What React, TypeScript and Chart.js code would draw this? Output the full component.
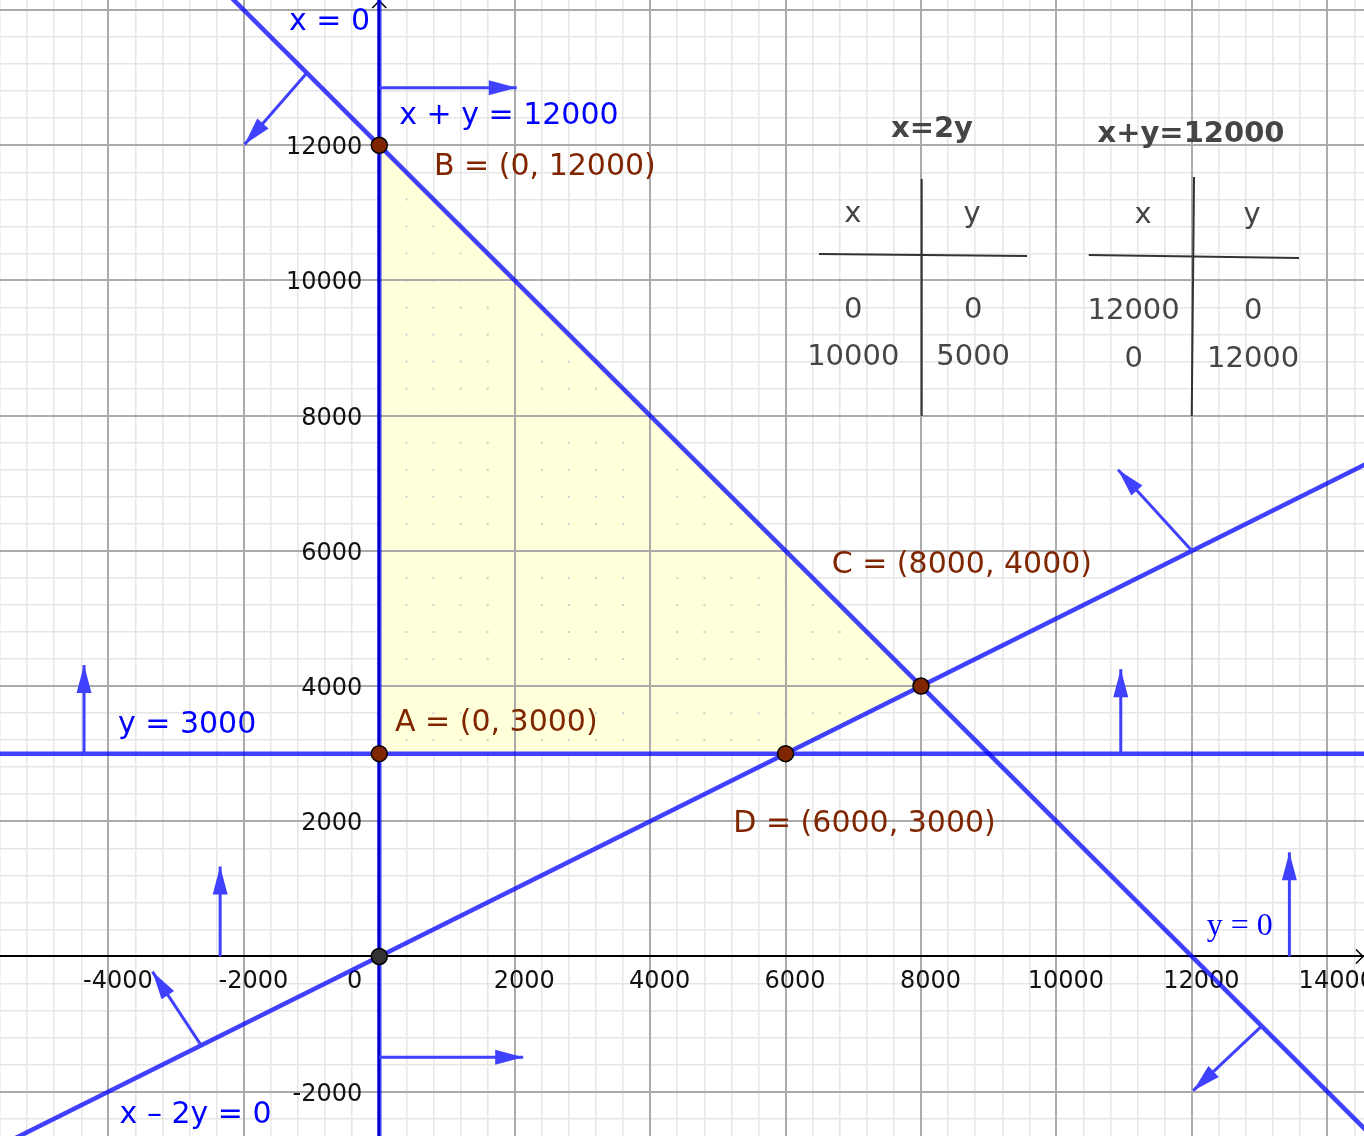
import React, { useEffect, useRef } from 'react';
import { Chart, registerables } from 'chart.js';

Chart.register(...registerables);

// ---------- axis ranges & ticks ----------
const X_MIN = -5601;
const X_MAX = 14542;
const Y_MIN = -2656;
const Y_MAX = 14149;
const MINOR_STEP = 400;
const MAJOR_STEP = 2000;
const X_TICK_VALUES = [-4000, -2000, 0, 2000, 4000, 6000, 8000, 10000, 12000, 14000];
const Y_TICK_VALUES = [-2000, 2000, 4000, 6000, 8000, 10000, 12000];

// ---------- constraint lines (two points each) ----------
const LINE_X_EQ_0 = [{ x: 0, y: -3000 }, { x: 0, y: 15000 }];
const LINE_Y_EQ_3000 = [{ x: -6000, y: 3000 }, { x: 15000, y: 3000 }];
const LINE_X_PLUS_Y = [{ x: -3000, y: 15000 }, { x: 15000, y: -3000 }];
const LINE_X_MINUS_2Y = [{ x: -6000, y: -3000 }, { x: 15000, y: 7500 }];

// ---------- vertices ----------
const POINT_A = { x: 0, y: 3000 };
const POINT_B = { x: 0, y: 12000 };
const POINT_C = { x: 8000, y: 4000 };
const POINT_D = { x: 6000, y: 3000 };
const FEASIBLE_REGION = [POINT_A, POINT_B, POINT_C, POINT_D, POINT_A];
const VERTICES = [POINT_A, POINT_B, POINT_C, POINT_D];
const ORIGIN = [{ x: 0, y: 0 }];

// ---------- half-plane arrows: [tail, tip] ----------
const ARROWS = [
  [{ x: -1070, y: 13070 }, { x: -1990, y: 12010 }],
  [{ x: 0, y: 12850 }, { x: 2030, y: 12850 }],
  [{ x: 12000, y: 6000 }, { x: 10910, y: 7200 }],
  [{ x: -4360, y: 3000 }, { x: -4360, y: 4310 }],
  [{ x: 10950, y: 3000 }, { x: 10950, y: 4250 }],
  [{ x: -2350, y: 0 }, { x: -2350, y: 1330 }],
  [{ x: 13440, y: 0 }, { x: 13440, y: 1540 }],
  [{ x: -2630, y: -1315 }, { x: -3350, y: -225 }],
  [{ x: 0, y: -1490 }, { x: 2125, y: -1490 }],
  [{ x: 13030, y: -1030 }, { x: 12020, y: -1985 }],
];

// ---------- tables ----------
const TABLE1_TITLE = 'x=2y';
const TABLE1_HEAD = ['x', 'y'];
const TABLE1_ROWS = [['0', '0'], ['10000', '5000']];
const TABLE2_TITLE = 'x+y=12000';
const TABLE2_HEAD = ['x', 'y'];
const TABLE2_ROWS = [['12000', '0'], ['0', '12000']];

// ---------- text labels ----------
const LABELS = [
  { text: 'x = 0', x: -1334, y: 13698, kind: 'blue' },
  { text: 'x + y = 12000', x: 295, y: 12315, kind: 'blue' },
  { text: 'B = (0, 12000)', x: 808, y: 11561, kind: 'brown' },
  { text: 'C = (8000, 4000)', x: 6681, y: 5669, kind: 'brown' },
  { text: 'A = (0, 3000)', x: 232, y: 3336, kind: 'brown' },
  { text: 'D = (6000, 3000)', x: 5228, y: 1846, kind: 'brown' },
  { text: 'y = 3000', x: -3859, y: 3311, kind: 'blue' },
  { text: 'x \u2013 2y = 0', x: -3835, y: -2467, kind: 'blue' },
  { text: 'y = 0', x: 12219, y: 318, kind: 'serif' },
];

// ---------- table layout (data coordinates) ----------
const TABLE_LAYOUT = [
  {
    title: TABLE1_TITLE, head: TABLE1_HEAD, rows: TABLE1_ROWS,
    titleAt: [8162, 12123], headX: [6993, 8753], headY: 10865,
    rowX: [7000, 8770], rowY: [9445, 8750],
    vLine: [[8010, 11502], [8010, 7996]], hLine: [[6494, 10392], [9566, 10363]],
  },
  {
    title: TABLE2_TITLE, head: TABLE2_HEAD, rows: TABLE2_ROWS,
    titleAt: [11987, 12053], headX: [11279, 12889], headY: 10851,
    rowX: [11140, 12905], rowY: [9430, 8721],
    vLine: [[12032, 11532], [11998, 7996]], hLine: [[10477, 10377], [13582, 10332]],
  },
];

// ---------- styles ----------
const LINE_COLOR = 'rgba(0,0,255,0.75)';
const ARROW_COLOR = '#4040ff';
const MINOR_GRID = '#e6e6e6';
const MAJOR_GRID = '#ababab';
const REGION_FILL = '#ffffd9';
const REGION_DOT = '#cfcfcf';
const VERTEX_COLOR = '#7f2600';
const FONT = '"DejaVu Sans", sans-serif';

const isMajor = (v: number) => Math.abs(v - Math.round(v / MAJOR_STEP) * MAJOR_STEP) < 1;

// grid ticks on exact multiples of the minor step
const gridTicks = (scale: any) => {
  const out: { value: number }[] = [];
  for (let v = Math.ceil(scale.min / MINOR_STEP) * MINOR_STEP; v <= scale.max; v += MINOR_STEP) {
    out.push({ value: v });
  }
  scale.ticks = out;
};

export default function App() {
  const ref = useRef<HTMLCanvasElement>(null);

  useEffect(() => {
    const canvas = ref.current!;
    const ctx2 = canvas.getContext('2d')!;
    const tile = document.createElement('canvas');
    tile.width = 27;
    tile.height = 27;
    const t = tile.getContext('2d')!;
    t.fillStyle = REGION_FILL;
    t.fillRect(0, 0, 27, 27);
    t.fillStyle = REGION_DOT;
    t.fillRect(0, 0, 2, 2);
    const pattern = ctx2.createPattern(tile, 'repeat')!;

    const lineDs = (data: any[]) => ({
      data, showLine: true, borderColor: LINE_COLOR, borderWidth: 4.5,
      pointRadius: 0, fill: false, order: 5,
    });
    const arrowDs = (data: any[]) => ({
      data, showLine: true, borderColor: ARROW_COLOR, borderWidth: 3,
      pointRadius: 0, fill: false, order: 4,
    });

    const datasets: any[] = [
      {
        data: FEASIBLE_REGION, showLine: true, borderWidth: 0, borderColor: 'rgba(0,0,0,0)',
        backgroundColor: pattern, fill: 'shape', pointRadius: 0, order: 10,
      },
      lineDs(LINE_X_EQ_0),
      lineDs(LINE_Y_EQ_3000),
      lineDs(LINE_X_PLUS_Y),
      lineDs(LINE_X_MINUS_2Y),
      ...ARROWS.map((a) => arrowDs(a)),
      {
        data: VERTICES, showLine: false, pointRadius: 8, pointBorderWidth: 1.5,
        pointBackgroundColor: VERTEX_COLOR, pointBorderColor: '#000', order: 0,
      },
      {
        data: ORIGIN, showLine: false, pointRadius: 8, pointBorderWidth: 1.5,
        pointBackgroundColor: '#333333', pointBorderColor: '#000', order: 0,
      },
    ];
    const arrowStart = 5;

    const gridAndAxes = {
      id: 'gridAndAxes',
      beforeDatasetsDraw(chart: any) {
        const xs = chart.scales.x, ys = chart.scales.y;
        const px0 = xs.getPixelForValue(0), py0 = ys.getPixelForValue(0);
        const sx = (xs.getPixelForValue(MINOR_STEP) - px0) / 27;
        const sy = (py0 - ys.getPixelForValue(MINOR_STEP)) / 27;
        pattern.setTransform(new DOMMatrix([sx, 0, 0, sy, px0 - 1, py0 - 1]));
      },
      afterDatasetDraw(chart: any, args: any) {
        if (args.index !== 0) return;
        const c = chart.ctx;
        const xs = chart.scales.x, ys = chart.scales.y;
        const area = chart.chartArea;
        c.save();
        // major grid over the region
        c.strokeStyle = MAJOR_GRID;
        c.lineWidth = 2;
        xs.ticks.filter((tk: any) => isMajor(tk.value)).forEach((tk: any) => {
          const p = Math.round(xs.getPixelForValue(tk.value));
          c.beginPath(); c.moveTo(p, area.top); c.lineTo(p, area.bottom); c.stroke();
        });
        ys.ticks.filter((tk: any) => isMajor(tk.value)).forEach((tk: any) => {
          const p = Math.round(ys.getPixelForValue(tk.value));
          c.beginPath(); c.moveTo(area.left, p); c.lineTo(area.right, p); c.stroke();
        });
        // axes
        const ax = xs.getPixelForValue(0), ay = ys.getPixelForValue(0);
        c.strokeStyle = '#000';
        c.lineWidth = 2;
        c.beginPath(); c.moveTo(area.left, Math.round(ay)); c.lineTo(area.right, Math.round(ay)); c.stroke();
        c.beginPath(); c.moveTo(Math.round(ax), area.top); c.lineTo(Math.round(ax), area.bottom); c.stroke();
        c.lineWidth = 1.5;
        c.beginPath();
        c.moveTo(area.right - 8, ay - 7); c.lineTo(area.right - 1, ay); c.lineTo(area.right - 8, ay + 7);
        c.stroke();
        c.beginPath();
        c.moveTo(ax - 7, area.top + 8); c.lineTo(ax, area.top + 1); c.lineTo(ax + 7, area.top + 8);
        c.stroke();
        // tick labels
        c.fillStyle = '#111';
        c.font = '24px ' + FONT;
        c.textBaseline = 'alphabetic';
        X_TICK_VALUES.forEach((v) => {
          const p = xs.getPixelForValue(v);
          const label = String(v);
          if (v === 0) {
            c.textAlign = 'right';
            c.fillText(label, ax - 17, ay + 32);
          } else {
            c.textAlign = 'center';
            c.fillText(label, p + 9.5, ay + 32);
          }
        });
        c.textAlign = 'right';
        Y_TICK_VALUES.forEach((v) => {
          const p = ys.getPixelForValue(v);
          c.fillText(String(v), ax - 17, p + 9);
        });
        c.restore();
      },
      afterDatasetsDraw(chart: any) {
        const c = chart.ctx;
        const xs = chart.scales.x, ys = chart.scales.y;
        c.save();
        // arrow heads
        c.fillStyle = ARROW_COLOR;
        ARROWS.forEach((_, i) => {
          const meta = chart.getDatasetMeta(arrowStart + i);
          const tail = meta.data[0], tip = meta.data[1];
          const dx = tip.x - tail.x, dy = tip.y - tail.y;
          const len = Math.hypot(dx, dy);
          const ux = dx / len, uy = dy / len;
          const bx = tip.x - ux * 28, by = tip.y - uy * 28;
          c.beginPath();
          c.moveTo(tip.x, tip.y);
          c.lineTo(bx - uy * 7.5, by + ux * 7.5);
          c.lineTo(bx + uy * 7.5, by - ux * 7.5);
          c.closePath();
          c.fill();
        });
        // tables
        TABLE_LAYOUT.forEach((tb) => {
          c.strokeStyle = '#333';
          c.lineWidth = 2;
          [tb.vLine, tb.hLine].forEach((ln) => {
            c.beginPath();
            c.moveTo(xs.getPixelForValue(ln[0][0]), ys.getPixelForValue(ln[0][1]));
            c.lineTo(xs.getPixelForValue(ln[1][0]), ys.getPixelForValue(ln[1][1]));
            c.stroke();
          });
          c.fillStyle = '#454545';
          c.textAlign = 'center';
          c.textBaseline = 'alphabetic';
          c.font = 'bold 29px ' + FONT;
          c.fillText(tb.title, xs.getPixelForValue(tb.titleAt[0]), ys.getPixelForValue(tb.titleAt[1]));
          c.font = '29px ' + FONT;
          tb.head.forEach((h, j) => {
            c.fillText(h, xs.getPixelForValue(tb.headX[j]), ys.getPixelForValue(tb.headY));
          });
          tb.rows.forEach((row, r) => {
            row.forEach((cell, j) => {
              c.fillText(cell, xs.getPixelForValue(tb.rowX[j]), ys.getPixelForValue(tb.rowY[r]));
            });
          });
        });
        // labels
        c.textAlign = 'left';
        c.textBaseline = 'alphabetic';
        LABELS.forEach((lb) => {
          if (lb.kind === 'serif') {
            c.font = '32px "Liberation Serif", serif';
            c.fillStyle = '#0000ff';
          } else {
            c.font = '30px ' + FONT;
            c.fillStyle = lb.kind === 'blue' ? '#0000ff' : VERTEX_COLOR;
          }
          c.fillText(lb.text, xs.getPixelForValue(lb.x), ys.getPixelForValue(lb.y));
        });
        c.restore();
      },
    };

    const gridColor = (ctx: any) => (ctx.tick && isMajor(ctx.tick.value) ? MAJOR_GRID : MINOR_GRID);
    const gridWidth = (ctx: any) => (ctx.tick && isMajor(ctx.tick.value) ? 2 : 1.5);

    const chart = new Chart(canvas, {
      type: 'scatter',
      data: { datasets },
      options: {
        responsive: false,
        animation: false,
        events: [],
        layout: { padding: 0, autoPadding: false },
        plugins: { legend: { display: false }, tooltip: { enabled: false } },
        scales: {
          x: {
            type: 'linear', min: X_MIN, max: X_MAX, position: 'bottom',
            afterBuildTicks: gridTicks,
            ticks: { display: false },
            grid: { color: gridColor, lineWidth: gridWidth, drawTicks: false },
            border: { display: false },
          },
          y: {
            type: 'linear', min: Y_MIN, max: Y_MAX, position: 'left',
            afterBuildTicks: gridTicks,
            ticks: { display: false },
            grid: { color: gridColor, lineWidth: gridWidth, drawTicks: false },
            border: { display: false },
          },
        },
      } as any,
      plugins: [gridAndAxes],
    });
    return () => chart.destroy();
  }, []);

  return (
    <div style={{ position: 'fixed', left: 0, top: 0, width: 1364, height: 1136, background: '#fff' }}>
      <canvas ref={ref} width={1364} height={1136} style={{ display: 'block' }} />
    </div>
  );
}
